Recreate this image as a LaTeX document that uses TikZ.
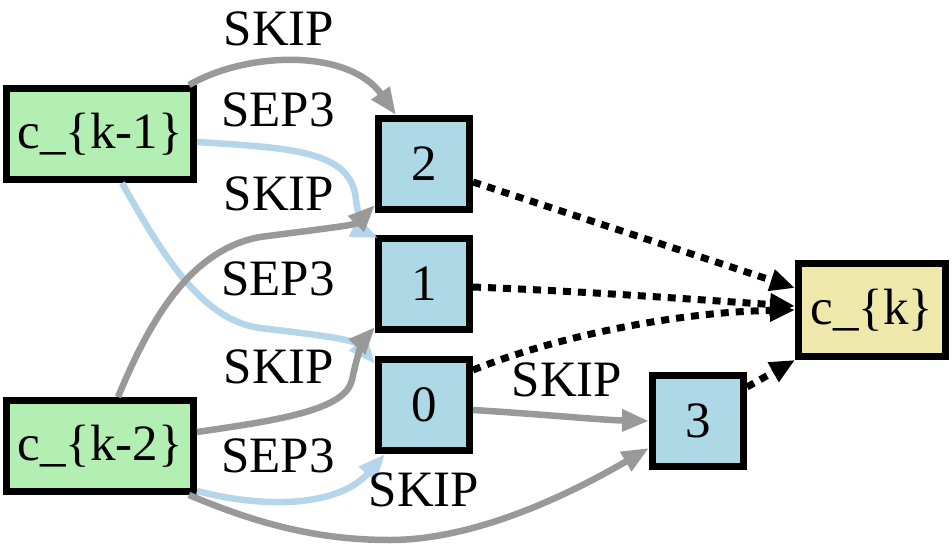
\documentclass[tikz,border=0pt]{standalone}
\usepackage{fontspec}
\setmainfont{Liberation Serif}
\usepackage{tikz}
\usetikzlibrary{arrows.meta, positioning}

\definecolor{cellgreen}{HTML}{B3EEB3}
\definecolor{opblue}{HTML}{ADD8E6}
\definecolor{outkhaki}{HTML}{EEE8AA}
\definecolor{skipgray}{HTML}{999999}
\definecolor{sepblue}{HTML}{B4D5EA}

\tikzset{
	box/.style={draw=black, line width=7pt, inner sep=0pt, font=\fontsize{51}{60}\selectfont},
	cellin/.style={box, fill=cellgreen, minimum width=187pt, minimum height=91pt},
	opnode/.style={box, fill=opblue, minimum width=91pt, minimum height=91pt},
	cellout/.style={box, fill=outkhaki, minimum width=147pt, minimum height=93pt},
	edgelabel/.style={inner sep=0pt, font=\fontsize{51}{60}\selectfont},
	skipedge/.style={draw=skipgray, line width=6.5pt, -{Triangle[length=27pt, width=21pt]}},
	sepedge/.style={draw=sepblue, line width=6.5pt, -{Triangle[length=27pt, width=21pt]}},
	outedge/.style={draw=black, line width=7pt, dash pattern=on 8pt off 7pt, -{Triangle[length=25pt, width=21pt]}},
}

\begin{document}
\begin{tikzpicture}[x=1pt, y=-1pt]
	\useasboundingbox (0,0) rectangle (952,545);
	% Nodes:
	\node[cellin](ckm1) at (100, 134){c\_\{k-1\}};
	\node[cellin](ckm2) at (100, 446){c\_\{k-2\}};
	\node[opnode](n2) at (424, 164){2};
	\node[opnode](n1) at (424, 284){1};
	\node[opnode](n0) at (424, 405){0};
	\node[opnode](n3) at (698, 421){3};
	\node[cellout](ck) at (872, 310){c\_\{k\}};
	% Edges and labels:
	\draw[skipedge] ([xshift=-8pt]ckm1.north east) .. controls (250, 50) and (350, 50) .. ([xshift=-28pt]n2.north);
	\node[edgelabel](lskipA) at (279, 29){SKIP};
	\draw[sepedge] ([yshift=-8pt]ckm1.east) .. controls (290, 148) and (352, 150) .. (356, 200) .. controls (359, 222) and (365, 232) .. ([xshift=3pt, yshift=-3pt]n1.north west);
	\node[edgelabel](lsepA) at (278, 110){SEP3};
	\draw[sepedge] ([xshift=22pt]ckm1.south) .. controls (160, 250) and (200, 320) .. (260, 328) .. controls (320, 335) and (355, 340) .. ([yshift=-8pt]n0.north west);
	\node[edgelabel](lskipB) at (279, 194){SKIP};
	\draw[skipedge] ([xshift=18pt]ckm2.north) .. controls (150, 320) and (190, 250) .. (260, 237) .. controls (330, 228) and (355, 225) .. ([yshift=8pt]n2.south west);
	\node[edgelabel](lsepB) at (278, 279){SEP3};
	\draw[skipedge] ([yshift=14pt]ckm2.east) .. controls (280, 420) and (345, 410) .. (352, 380) .. controls (358, 350) and (365, 338) .. ([yshift=6pt]n1.south west);
	\node[edgelabel](lskipC) at (279, 367){SKIP};
	\draw[sepedge] ([yshift=4pt]ckm2.south east) .. controls (270, 510) and (340, 505) .. ([xshift=10pt]n0.south west);
	\node[edgelabel](lsepC) at (278, 456){SEP3};
	\draw[skipedge] ([xshift=-8pt]ckm2.south east) .. controls (260, 525) and (320, 540) .. (390, 540) .. controls (470, 540) and (560, 500) .. ([yshift=-27pt]n3.west);
	\node[edgelabel](lskipD) at (424, 490){SKIP};
	\draw[skipedge] ([yshift=-5pt]n0.east) .. controls (540, 414) and (600, 420) .. (n3.west);
	\node[edgelabel](lskipE) at (567, 380){SKIP};
	\draw[outedge] ([yshift=-18pt]n2.east) -- ([yshift=22pt]ck.west);
	\draw[outedge] ([yshift=-3pt]n1.east) .. controls (600, 292) and (700, 300) .. ([yshift=4pt]ck.west);
	\draw[outedge] ([yshift=35pt]n0.east) .. controls (560, 335) and (680, 312) .. (ck.west);
	\draw[outedge] ([yshift=-15pt]n3.north east) -- (ck.south west);
\end{tikzpicture}
\end{document}
